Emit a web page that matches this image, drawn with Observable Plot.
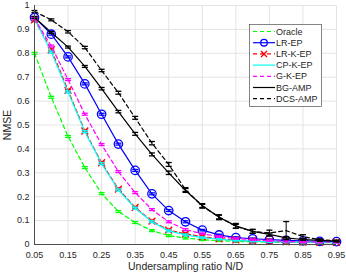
<!DOCTYPE html>
<html><head><meta charset="utf-8">
<script src="https://cdn.jsdelivr.net/npm/d3@7"></script>
<script src="https://cdn.jsdelivr.net/npm/@observablehq/plot@0.6"></script>
<style>body{margin:0;background:#fff;font-family:"Liberation Sans",Arial,sans-serif;}</style>
</head><body><div id="chart"></div>
<script>
const ratio = [0.05,0.1,0.15,0.2,0.25,0.3,0.35,0.4,0.45,0.5,0.55,0.6,0.65,0.7,0.75,0.8,0.85,0.9,0.95];
const oracle = [0.80,0.616,0.452,0.322,0.213,0.138,0.092,0.058,0.037,0.027,0.02,0.016,0.013,0.011,0.01,0.009,0.009,0.008,0.008];
const lrEP   = [0.95,0.88,0.785,0.672,0.545,0.42,0.31,0.212,0.142,0.095,0.06,0.04,0.029,0.024,0.02,0.017,0.015,0.013,0.012];
const lrKEP  = [0.94,0.815,0.645,0.475,0.342,0.232,0.155,0.098,0.06,0.045,0.032,0.024,0.019,0.015,0.013,0.011,0.01,0.009,0.009];
const cpKEP  = [0.945,0.805,0.638,0.472,0.338,0.228,0.152,0.095,0.057,0.04,0.029,0.022,0.017,0.014,0.012,0.011,0.01,0.009,0.008];
const gKEP   = [0.945,0.83,0.69,0.545,0.418,0.305,0.217,0.146,0.095,0.062,0.045,0.033,0.025,0.02,0.016,0.013,0.011,0.01,0.009];
const bgAMP  = [0.95,0.887,0.826,0.745,0.652,0.556,0.463,0.377,0.3,0.226,0.163,0.114,0.078,0.055,0.042,0.028,0.021,0.017,0.014];
const dcsAMP = [0.975,0.94,0.89,0.824,0.728,0.635,0.53,0.424,0.335,0.23,0.16,0.115,0.076,0.055,0.048,0.058,0.033,0.02,0.015];
const smallErr = [0.004,0.004,0.004,0.004,0.004,0.004,0.004,0.004,0.004,0.004,0.003,0.003,0.003,0.003,0.003,0.003,0.003,0.003,0.003];
const bgErr  = [0.004,0.004,0.004,0.004,0.005,0.005,0.006,0.006,0.007,0.008,0.008,0.01,0.01,0.008,0.006,0.005,0.004,0.003,0.003];
const dcsErr = [0.004,0.004,0.005,0.005,0.005,0.006,0.006,0.007,0.008,0.008,0.008,0.008,0.008,0.008,0.012,0.038,0.008,0.004,0.003];
const seriesNames = ["Oracle","LR-EP","LR-K-EP","CP-K-EP","G-K-EP","BG-AMP","DCS-AMP"];
const xTicks = [0.05,0.15,0.25,0.35,0.45,0.55,0.65,0.75,0.85,0.95];
const xTickLabels = ["0.05","0.15","0.25","0.35","0.45","0.55","0.65","0.75","0.85","0.95"];
const yTicks = [0,0.1,0.2,0.3,0.4,0.5,0.6,0.7,0.8,0.9,1];
const yTickLabels = ["0","0.1","0.2","0.3","0.4","0.5","0.6","0.7","0.8","0.9","1"];

const styles = [
  {vals: oracle, err: smallErr, color: "#00ff00", dash: "4,3", marker: null},
  {vals: lrEP, err: smallErr, color: "#0000ff", dash: null, marker: "circle"},
  {vals: lrKEP, err: smallErr, color: "#ff0000", dash: "4,3", marker: "times"},
  {vals: cpKEP, err: smallErr, color: "#00ffff", dash: null, marker: null},
  {vals: gKEP, err: smallErr, color: "#ff00ff", dash: "4,3", marker: null},
  {vals: bgAMP, err: bgErr, color: "#000000", dash: null, marker: null},
  {vals: dcsAMP, err: dcsErr, color: "#000000", dash: "4,3", marker: null}
];

const capSymbol = {draw(ctx, size){ ctx.moveTo(-3,0); ctx.lineTo(3,0); }};

const marks = [
  Plot.gridX(xTicks, {stroke: "#e3e3e3", strokeOpacity: 1, strokeWidth: 1}),
  Plot.gridY(yTicks, {stroke: "#e3e3e3", strokeOpacity: 1, strokeWidth: 1}),
  Plot.ruleX([0.95], {stroke: "#e3e3e3"}),
  Plot.ruleY([1], {stroke: "#e3e3e3"})
];
styles.forEach((s, k) => {
  const data = ratio.map((r, i) => ({x: r, y: s.vals[i], lo: s.vals[i] - s.err[i], hi: s.vals[i] + s.err[i]}));
  marks.push(Plot.line(data, {x: "x", y: "y", stroke: s.color, strokeWidth: 1.2, strokeDasharray: s.dash, curve: "linear"}));
  marks.push(Plot.ruleX(data, {x: "x", y1: "lo", y2: "hi", stroke: s.color, strokeWidth: 1}));
  marks.push(Plot.dot(data, {x: "x", y: "lo", symbol: capSymbol, stroke: s.color, strokeWidth: 1.3, fill: "none"}));
  marks.push(Plot.dot(data, {x: "x", y: "hi", symbol: capSymbol, stroke: s.color, strokeWidth: 1.3, fill: "none"}));
  if (s.marker === "circle") marks.push(Plot.dot(data, {x: "x", y: "y", r: 4.2, stroke: s.color, strokeWidth: 1.3, fill: "none"}));
  if (s.marker === "times") marks.push(Plot.dot(data, {x: "x", y: "y", symbol: "times", r: 3.2, stroke: s.color, strokeWidth: 1.4, fill: "none"}));
});
marks.push(Plot.ruleX([0.05], {stroke: "#4d4d4d", strokeWidth: 1}));
marks.push(Plot.ruleY([0], {stroke: "#4d4d4d", strokeWidth: 1}));

const chart = Plot.plot({
  width: 346, height: 273,
  marginLeft: 34, marginRight: 10, marginTop: 5, marginBottom: 29,
  style: {fontFamily: "'Liberation Sans', Arial, sans-serif", fontSize: "9px", color: "#262626", background: "#fff"},
  x: {domain: [0.05, 0.95], ticks: xTicks, tickFormat: (d, i) => xTickLabels[i], tickSize: 0, tickPadding: 7,
      label: "Undersampling ratio N/D", labelAnchor: "center", labelOffset: 25.5, labelArrow: "none"},
  y: {domain: [0, 1], ticks: yTicks, tickFormat: (d, i) => yTickLabels[i], tickSize: 0, tickPadding: 5,
      label: "NMSE", labelAnchor: "center", labelOffset: 31, labelArrow: "none"},
  marks
});
document.getElementById("chart").appendChild(chart);

const svg = d3.select(chart);
svg.selectAll('g[aria-label="x-axis label"] text, g[aria-label="y-axis label"] text').attr("font-size", "10.5px");

// legend
const lg = svg.append("g").attr("font-family", "'Liberation Sans', Arial, sans-serif").attr("font-size", "9px").attr("text-anchor", "start");
lg.append("rect").attr("x", 249.5).attr("y", 24.5).attr("width", 72).attr("height", 82)
  .attr("fill", "#fff").attr("stroke", "#333").attr("stroke-width", 0.6);
styles.forEach((s, k) => {
  const yy = 31.5 + k * 11.2;
  lg.append("line").attr("x1", 253).attr("x2", 275).attr("y1", yy).attr("y2", yy)
    .attr("stroke", s.color).attr("stroke-width", 1.2).attr("stroke-dasharray", s.dash);
  if (s.marker === "circle") lg.append("circle").attr("cx", 264).attr("cy", yy).attr("r", 3.3).attr("fill", "none").attr("stroke", s.color).attr("stroke-width", 1.3);
  if (s.marker === "times") lg.append("path").attr("d", `M${261},${yy-3}L${267},${yy+3}M${261},${yy+3}L${267},${yy-3}`).attr("stroke", s.color).attr("stroke-width", 1.4);
  lg.append("text").attr("x", 276).attr("y", yy).attr("dy", "0.35em").attr("text-anchor", "start").attr("fill", "#262626").text(seriesNames[k]);
});
</script></body></html>
